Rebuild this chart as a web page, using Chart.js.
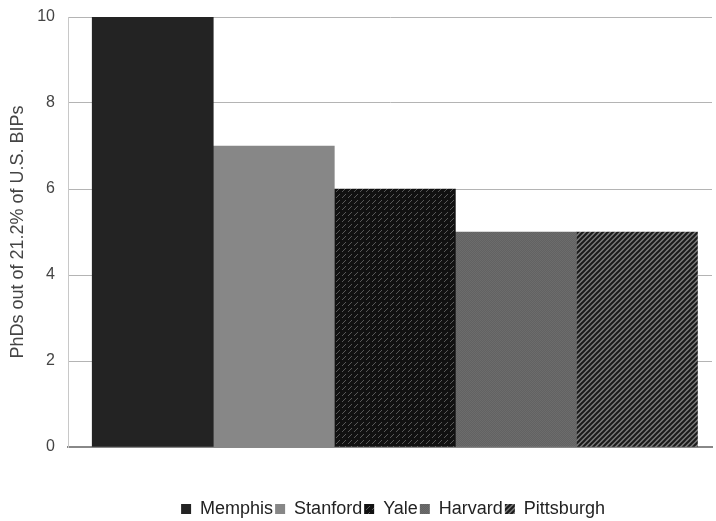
<!DOCTYPE html>
<html>
<head>
<meta charset="utf-8">
<script src="https://cdn.jsdelivr.net/npm/chart.js@4"></script>
<style>
  html, body { margin: 0; padding: 0; background: #fff; }
  #wrap { width: 716px; height: 521px; }
</style>
</head>
<body>
<div id="wrap"><canvas id="canvas" width="716" height="521"></canvas></div>
<script>
// PhDs per school
let schools = ['Memphis', 'Stanford', 'Yale', 'Harvard', 'Pittsburgh'];
let phds = [10, 7, 6, 5, 5];
let yTicks = [0, 2, 4, 6, 8, 10];
let yTitle = 'PhDs out of 21.2% of U.S. BIPs';

// small tiled fills to mimic the print patterns
function tile(size, draw) {
  let c = document.createElement('canvas');
  c.width = size; c.height = size;
  draw(c.getContext('2d'));
  return c.getContext('2d').createPattern(c, 'repeat');
}

let yalePat = tile(6, function (g) {
  g.fillStyle = '#111'; g.fillRect(0, 0, 6, 6);
  g.fillStyle = '#585858';
  g.fillRect(0, 5, 1, 1); g.fillRect(1, 4, 1, 1); g.fillRect(2, 3, 1, 1);
  g.fillRect(3, 2, 1, 1);
});
let harvardPat = tile(2, function (g) {
  g.fillStyle = '#626262'; g.fillRect(0, 0, 2, 2);
  g.fillStyle = '#6c6c6c'; g.fillRect(0, 0, 1, 1); g.fillRect(1, 1, 1, 1);
});
let pittPat = tile(5, function (g) {
  g.fillStyle = '#7a7a7a'; g.fillRect(0, 0, 5, 5);
  g.strokeStyle = '#1a1a1a'; g.lineWidth = 2;
  g.beginPath();
  g.moveTo(-1, 6); g.lineTo(6, -1);
  g.moveTo(-4, 4); g.lineTo(4, -4);
  g.moveTo(1, 9); g.lineTo(9, 1);
  g.stroke();
});

let fills = ['#232323', '#878787', yalePat, harvardPat, pittPat];

// one bar per dataset, side by side on a linear x scale
let datasets = schools.map(function (s, i) {
  return {
    label: s,
    data: [{ x: i, y: phds[i] }],
    backgroundColor: fills[i],
    borderWidth: 0,
    grouped: false,
    barPercentage: 1.0,
    categoryPercentage: 1.0
  };
});

let font = 'Liberation Sans, Arial, sans-serif';

// nudge the legend under the bars like in the original
let legendShift = {
  id: 'legendShift',
  afterLayout: function (chart) {
    let lg = chart.legend;
    lg.left += 35; lg.right += 35;
    lg.top += 7; lg.bottom += 7;
  }
};

let options = {
  type: 'bar',
  data: {
    datasets: datasets
  },
  options: {
    responsive: false,
    animation: false,
    layout: { padding: { left: 4, right: 4, top: 17, bottom: 0 } },
    plugins: {
      title: { display: false },
      tooltip: { enabled: false },
      legend: {
        display: true,
        position: 'bottom',
        labels: {
          boxWidth: 10,
          boxHeight: 10,
          padding: 2,
          color: '#222',
          font: { family: font, size: 18 }
        }
      }
    },
    scales: {
      x: {
        type: 'linear',
        offset: false,
        min: -0.7,
        max: 4.62,
        afterBuildTicks: function (axis) {
          axis.ticks = schools.map(function (s, i) { return { value: i }; });
        },
        grid: { display: false, drawTicks: false },
        border: { display: true, color: '#888', width: 2 },
        ticks: { display: false },
        afterFit: function (axis) { axis.height = 44; }
      },
      y: {
        min: 0,
        max: 10,
        afterBuildTicks: function (axis) {
          axis.ticks = yTicks.map(function (v) { return { value: v }; });
        },
        afterFit: function (axis) {
          axis.width = 64;
          axis.paddingTop = 0;
          axis.paddingBottom = 0;
        },
        grid: { color: '#b4b4b4', lineWidth: 1, drawTicks: false },
        border: { display: true, color: '#c8c8c8' },
        ticks: {
          color: '#444',
          padding: 13,
          font: { family: font, size: 16 }
        },
        title: {
          display: true,
          text: yTitle,
          color: '#444',
          padding: { top: 3, bottom: 4 },
          font: { family: font, size: 18 }
        }
      }
    }
  },
  plugins: [legendShift]
};

let chart = new Chart(document.getElementById('canvas'), options);
</script>
</body>
</html>
